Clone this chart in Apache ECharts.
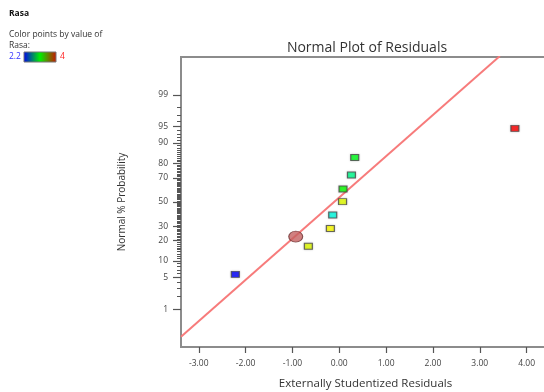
<!DOCTYPE html>
<html>
<head>
<meta charset="utf-8">
<script src="https://cdn.jsdelivr.net/npm/echarts@6/dist/echarts.min.js"></script>
<style>
html,body{margin:0;padding:0;background:#fff;}
#main{width:544px;height:392px;}
</style>
</head>
<body>
<div id="main"></div>
<script>
// ---- data ----
var residuals   = [-2.22, -0.66, -0.19, -0.14, 0.07, 0.08, 0.26, 0.33, 3.75];
var probability = [5.8, 16.8, 28.2, 38.9, 50.3, 61.1, 72.1, 83.3, 94.5];
var rasaValues  = [2.2, 3.5, 3.55, 2.7, 3.5, 3.12, 2.85, 3.05, 4.0];
var selectedResidual = [-0.93];
var selectedProbability = [22.6];
var fitLineX = [-3.38, 3.43];
var fitLineProb = [0.17, 99.924];
var xTickValues = [-3, -2, -1, 0, 1, 2, 3, 4];
var yMajorPct = [1, 5, 10, 20, 30, 50, 70, 80, 90, 95, 99];
var yMinorPct = [2, 3, 4, 6, 7, 8, 9, 11,12,13,14,15,16,17,18,19,21,22,23,24,25,26,27,28,29,
  31,32,33,34,35,36,37,38,39,40,41,42,43,44,45,46,47,48,49,51,52,53,54,55,56,57,58,59,60,
  61,62,63,64,65,66,67,68,69,71,72,73,74,75,76,77,78,79,81,82,83,84,85,86,87,88,89,91,92,93,94,96,97,98];
var rasaMin = 2.2, rasaMax = 4;

// normal quantile (probit) for the probability scale
function probit(p) {
  var a=[-3.969683028665376e+01,2.209460984245205e+02,-2.759285104469687e+02,1.383577518672690e+02,-3.066479806614716e+01,2.506628277459239e+00];
  var b=[-5.447609879822406e+01,1.615858368580409e+02,-1.556989798598866e+02,6.680131188771972e+01,-1.328068155288572e+01];
  var c=[-7.784894002430293e-03,-3.223964580411365e-01,-2.400758277161838e+00,-2.549732539343734e+00,4.374664141464968e+00,2.938163982698783e+00];
  var d=[7.784695709041462e-03,3.224671290700398e-01,2.445134137142996e+00,3.754408661907416e+00];
  var pl=0.02425, q, r;
  if (p < pl) { q=Math.sqrt(-2*Math.log(p)); return (((((c[0]*q+c[1])*q+c[2])*q+c[3])*q+c[4])*q+c[5])/((((d[0]*q+d[1])*q+d[2])*q+d[3])*q+1); }
  if (p > 1-pl) { q=Math.sqrt(-2*Math.log(1-p)); return -(((((c[0]*q+c[1])*q+c[2])*q+c[3])*q+c[4])*q+c[5])/((((d[0]*q+d[1])*q+d[2])*q+d[3])*q+1); }
  q=p-0.5; r=q*q;
  return (((((a[0]*r+a[1])*r+a[2])*r+a[3])*r+a[4])*r+a[5])*q/(((((b[0]*r+b[1])*r+b[2])*r+b[3])*r+b[4])*r+1);
}
function z(pct){ return probit(pct/100); }

var pts = residuals.map(function(x,i){ return [x, z(probability[i]), rasaValues[i]]; });
var sel = selectedResidual.map(function(x,i){ return [x, z(selectedProbability[i])]; });
var fit = fitLineX.map(function(x,i){ return [x, z(fitLineProb[i])]; });
var majorZ = yMajorPct.map(z);
var minorZ = yMinorPct.map(z);

var FONT = '"Open Sans", "Noto Sans", sans-serif';
var chart = echarts.init(document.getElementById('main'));
chart.setOption({
  animation: false,
  backgroundColor: '#ffffff',
  title: {
    text: 'Normal Plot of Residuals',
    left: 362, top: 36, textAlign: 'center',
    textStyle: { fontSize: 14, fontWeight: 'normal', color: '#333', fontFamily: FONT }
  },
  grid: { left: 181, top: 57, width: 369, height: 290, show: true, borderColor: '#8c8c8c', borderWidth: 2,
    backgroundColor: 'transparent', containLabel: false, outerBoundsMode: 'none' },
  xAxis: {
    type: 'value', min: -3.38, max: 4.5,
    name: 'Externally Studentized Residuals', nameLocation: 'middle', nameGap: 31,
    nameTextStyle: { fontSize: 11.5, color: '#333', fontFamily: FONT },
    axisLine: { show: false, onZero: false },
    splitLine: { show: false },
    axisTick: { show: true, customValues: xTickValues, length: 6, lineStyle: { color: '#555', width: 1.2 } },
    axisLabel: { customValues: xTickValues, margin: 12, fontSize: 8.5, color: '#444', fontFamily: FONT,
      formatter: function(v){ return v.toFixed(2); } }
  },
  yAxis: [{
    type: 'value', min: -3.15, max: 3.15, position: 'left',
    name: 'Normal % Probability', nameLocation: 'middle', nameGap: 54, nameRotate: 90,
    nameTextStyle: { fontSize: 10, color: '#333', fontFamily: FONT },
    axisLine: { show: false, onZero: false }, splitLine: { show: false },
    axisTick: { show: true, customValues: majorZ, length: 8, lineStyle: { color: '#555', width: 1.2 } },
    axisLabel: { customValues: majorZ, margin: 13, fontSize: 8.5, color: '#444', fontFamily: FONT,
      formatter: function(v){
        for (var i=0;i<majorZ.length;i++){ if (Math.abs(majorZ[i]-v) < 1e-6) return String(yMajorPct[i]); }
        return '';
      } }
  }, {
    type: 'value', min: -3.15, max: 3.15, position: 'left', offset: 0,
    axisLine: { show: false, onZero: false }, splitLine: { show: false },
    axisTick: { show: true, customValues: minorZ, length: 4, lineStyle: { color: '#555', width: 1 } },
    axisLabel: { show: false }
  }],
  visualMap: {
    show: false, type: 'continuous', min: rasaMin, max: rasaMax, dimension: 2, seriesIndex: 1,
    inRange: { color: ['#0000ff', '#00ffff', '#00ff00', '#ffff00', '#ff0000'] }
  },
  graphic: [
    { type: 'text', left: 9, top: 9, style: { text: 'Rasa', font: 'bold 8.5px ' + FONT, fill: '#111' } },
    { type: 'text', left: 9, top: 30, style: { text: 'Color points by value of', font: '8.5px ' + FONT, fill: '#333' } },
    { type: 'text', left: 9, top: 41, style: { text: 'Rasa:', font: '8.5px ' + FONT, fill: '#333' } },
    { type: 'text', left: 9, top: 52, style: { text: '2.2', font: '8.5px ' + FONT, fill: '#3333ff' } },
    { type: 'rect', shape: { x: 24, y: 52, width: 32, height: 10 },
      style: { stroke: '#777', lineWidth: 1,
        fill: new echarts.graphic.LinearGradient(0,0,1,0,[{offset:0,color:'#0000ee'},{offset:0.5,color:'#00ee00'},{offset:1,color:'#cc1100'}]) } },
    { type: 'text', left: 60, top: 52, style: { text: '4', font: '8.5px ' + FONT, fill: '#ff2222' } }
  ],
  series: [{
    type: 'line', data: fit, symbol: 'none', silent: true, clip: true,
    lineStyle: { color: '#f77b7b', width: 2 }, z: 1
  }, {
    type: 'scatter', data: pts, symbol: 'rect', symbolSize: [8, 6],
    itemStyle: { borderColor: '#4a4a4a', borderWidth: 1, shadowColor: 'rgba(0,0,0,0.25)', shadowBlur: 2 }, z: 3
  }, {
    type: 'scatter', data: sel, symbol: 'circle', symbolSize: [14, 11],
    itemStyle: { color: '#c46060', borderColor: '#6a3030', borderWidth: 1 }, z: 4
  }]
});
</script>
</body>
</html>
